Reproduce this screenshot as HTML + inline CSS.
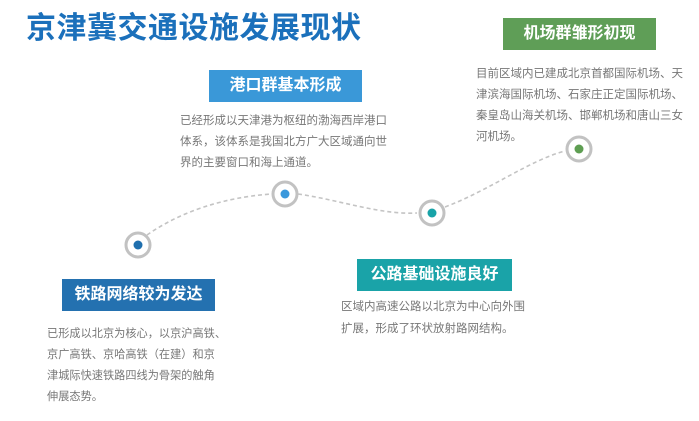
<!DOCTYPE html>
<html><head><meta charset="utf-8"><style>
body{margin:0;width:699px;height:421px;background:#fff;position:relative;overflow:hidden;font-family:"Liberation Sans","Noto Sans CJK SC",sans-serif}
.t{position:absolute;left:26px;top:3px;font-size:30px;font-weight:bold;color:#1b70bb;letter-spacing:0.5px;white-space:nowrap}
.b{position:absolute;height:32px;line-height:32px;color:#fff;font-weight:bold;font-size:16px;text-align:center;white-space:nowrap}
.p{position:absolute;color:#777;white-space:nowrap}
svg{position:absolute;left:0;top:0}
</style></head><body>
<div class="t">京津冀交通设施发展现状</div>
<svg width="699" height="421">
<path d="M147,235 C190,205 240,196 272,194 M298,194 C340,200 380,215 417,213 M445,207 C490,190 530,160 565,151" fill="none" stroke="#c4c4c4" stroke-width="1.6" stroke-dasharray="4,3"/>
<g fill="#fff" stroke="#c2c2c2" stroke-width="3">
<circle cx="138" cy="245" r="12"/><circle cx="285" cy="194" r="12"/><circle cx="432" cy="213" r="12"/><circle cx="579" cy="149" r="12"/></g>
<circle cx="138" cy="245" r="4.5" fill="#1f6fae"/>
<circle cx="285" cy="194" r="4.5" fill="#3a98dc"/>
<circle cx="432" cy="213" r="4.5" fill="#18a3a8"/>
<circle cx="579" cy="149" r="4.5" fill="#5e9e52"/>
</svg>
<div class="b" style="left:209px;top:70px;width:153px;background:#3a98d8">港口群基本形成</div>
<div class="p" style="left:180px;top:111px;font-size:11.5px;line-height:21px">已经形成以天津港为枢纽的渤海西岸港口<br>体系，该体系是我国北方广大区域通向世<br>界的主要窗口和海上通道。</div>
<div class="b" style="left:503px;top:18px;width:153px;background:#5f9e57">机场群雏形初现</div>
<div class="p" style="left:476px;top:64px;font-size:11.5px;line-height:21px">目前区域内已建成北京首都国际机场、天<br>津滨海国际机场、石家庄正定国际机场、<br>秦皇岛山海关机场、邯郸机场和唐山三女<br>河机场。</div>
<div class="b" style="left:62px;top:279px;width:153px;background:#2471b0">铁路网络较为发达</div>
<div class="p" style="left:47px;top:324px;font-size:11.2px;line-height:21px">已形成以北京为核心，以京沪高铁、<br>京广高铁、京哈高铁（在建）和京<br>津城际快速铁路四线为骨架的触角<br>伸展态势。</div>
<div class="b" style="left:357px;top:259px;width:155px;background:#1aa3a8">公路基础设施良好</div>
<div class="p" style="left:341px;top:296px;font-size:11.5px;line-height:22px">区域内高速公路以北京为中心向外围<br>扩展，形成了环状放射路网结构。</div>
</body></html>
